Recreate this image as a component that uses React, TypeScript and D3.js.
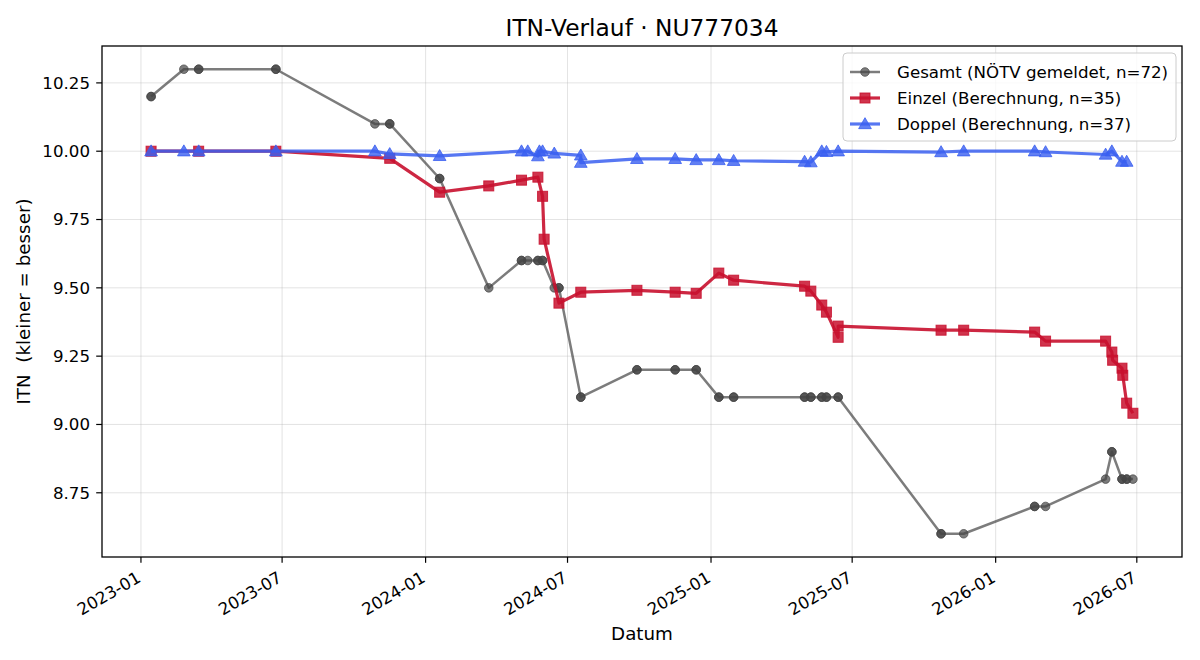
import React from "react";
import * as d3 from "d3";

const gesamtDates = [
  "2023-01-14", "2023-01-14", "2023-02-25", "2023-03-16", "2023-03-16", "2023-06-23", "2023-06-23",
  "2023-10-28", "2023-11-16", "2023-11-16", "2024-01-19", "2024-01-19", "2024-03-22",
  "2024-05-03", "2024-05-03", "2024-05-11", "2024-05-24", "2024-05-24", "2024-05-30", "2024-05-30",
  "2024-06-14", "2024-06-20", "2024-06-20", "2024-07-18", "2024-07-18", "2024-09-28", "2024-09-28",
  "2024-11-16", "2024-11-16", "2024-12-13", "2024-12-13", "2025-01-11", "2025-01-11",
  "2025-01-30", "2025-01-30", "2025-05-01", "2025-05-01", "2025-05-09", "2025-05-09",
  "2025-05-23", "2025-05-23", "2025-05-29", "2025-05-29", "2025-06-13", "2025-06-13",
  "2025-10-23", "2025-10-23", "2025-11-21", "2026-02-20", "2026-02-20", "2026-03-06",
  "2026-05-22", "2026-05-30", "2026-05-30", "2026-06-12", "2026-06-12", "2026-06-18", "2026-06-18",
  "2026-06-26",
];
const gesamtValues = [
  10.2, 10.2, 10.3, 10.3, 10.3, 10.3, 10.3,
  10.1, 10.1, 10.1, 9.9, 9.9, 9.5,
  9.6, 9.6, 9.6, 9.6, 9.6, 9.6, 9.6,
  9.5, 9.5, 9.5, 9.1, 9.1, 9.2, 9.2,
  9.2, 9.2, 9.2, 9.2, 9.1, 9.1,
  9.1, 9.1, 9.1, 9.1, 9.1, 9.1,
  9.1, 9.1, 9.1, 9.1, 9.1, 9.1,
  8.6, 8.6, 8.6, 8.7, 8.7, 8.7,
  8.8, 8.9, 8.9, 8.8, 8.8, 8.8, 8.8,
  8.8,
];

const einzelDates = [
  "2023-01-14", "2023-03-16", "2023-06-23", "2023-11-16", "2024-01-19", "2024-03-22",
  "2024-05-03", "2024-05-24", "2024-05-30", "2024-06-01", "2024-06-20", "2024-07-18",
  "2024-09-28", "2024-11-16", "2024-12-13", "2025-01-11", "2025-01-30", "2025-05-01",
  "2025-05-09", "2025-05-23", "2025-05-29", "2025-06-13", "2025-06-13", "2025-10-23",
  "2025-11-21", "2026-02-20", "2026-03-06", "2026-05-22", "2026-05-30", "2026-05-31",
  "2026-06-12", "2026-06-13", "2026-06-18", "2026-06-26",
];
const einzelValues = [
  10.0, 10.0, 10.0, 9.974, 9.85, 9.873,
  9.894, 9.905, 9.835, 9.678, 9.444, 9.484,
  9.491, 9.484, 9.48, 9.554, 9.528, 9.506,
  9.488, 9.437, 9.411, 9.319, 9.36, 9.345,
  9.345, 9.338, 9.305, 9.305, 9.265, 9.235,
  9.206, 9.18, 9.078, 9.041,
];

const doppelDates = [
  "2023-01-14", "2023-02-25", "2023-03-16", "2023-06-23", "2023-10-28", "2023-11-16",
  "2024-01-19", "2024-05-03", "2024-05-11", "2024-05-24", "2024-05-26", "2024-05-30",
  "2024-06-14", "2024-07-18", "2024-07-18", "2024-09-28", "2024-11-16", "2024-12-13",
  "2025-01-11", "2025-01-30", "2025-05-01", "2025-05-09", "2025-05-23", "2025-05-29",
  "2025-06-13", "2025-10-23", "2025-11-21", "2026-02-20", "2026-03-06", "2026-05-22",
  "2026-05-30", "2026-06-12", "2026-06-18",
];
const doppelValues = [
  10.0, 10.0, 10.0, 10.0, 10.0, 9.99,
  9.983, 10.0, 10.0, 9.982, 10.0, 10.0,
  9.992, 9.985, 9.958, 9.972, 9.972, 9.968,
  9.968, 9.965, 9.962, 9.96, 10.0, 9.998,
  10.0, 9.997, 10.0, 10.0, 9.997, 9.988,
  10.0, 9.962, 9.962,
];

const yTicks = [8.75, 9.0, 9.25, 9.5, 9.75, 10.0, 10.25];
const xTickLabels = ["2023-01", "2023-07", "2024-01", "2024-07", "2025-01", "2025-07", "2026-01", "2026-07"];

const TITLE = "ITN-Verlauf · NU777034";
const X_LABEL = "Datum";
const Y_LABEL = "ITN  (kleiner = besser)";
const LEGEND = [
  "Gesamt (NÖTV gemeldet, n=72)",
  "Einzel (Berechnung, n=35)",
  "Doppel (Berechnung, n=37)",
];

const parse = d3.timeParse("%Y-%m-%d");
const parseMonth = d3.timeParse("%Y-%m");

type Pt = { d: Date; v: number };
const zip = (ds: string[], vs: number[]): Pt[] => ds.map((s, i) => ({ d: parse(s) as Date, v: vs[i] }));

const gesamt = zip(gesamtDates, gesamtValues);
const einzel = zip(einzelDates, einzelValues);
const doppel = zip(doppelDates, doppelValues);

const W = 1200, H = 660;
const M = { left: 102, top: 46, right: 1182, bottom: 557 };
const FONT = "DejaVu Sans, sans-serif";
const FS = 16.67;
const LFS = 18.3;

const GRAY = "#444444";
const RED = "#c8102e";
const BLUE = "#3a5ff0";

export default function App() {
  const all = [...gesamt, ...einzel, ...doppel];
  const [dMin, dMax] = d3.extent(all, (p) => p.d.getTime()) as [number, number];
  const [vMin, vMax] = d3.extent(all, (p) => p.v) as [number, number];
  const dp = (dMax - dMin) * 0.05;
  const vp = (vMax - vMin) * 0.05;

  const x = d3.scaleTime().domain([new Date(dMin - dp), new Date(dMax + dp)]).range([M.left, M.right]);
  const y = d3.scaleLinear().domain([vMin - vp, vMax + vp]).range([M.bottom, M.top]);

  const line = d3.line<Pt>().x((p) => x(p.d)).y((p) => y(p.v));
  const xTicks = xTickLabels.map((s) => parseMonth(s) as Date);

  const tri = d3.symbol().type(d3.symbolTriangle).size(70)() as string;

  const legendX = 843, legendY = 53;
  const rowY = [72, 98, 124];

  const drawMarker = (kind: number, cx: number, cy: number, key: string | number) => {
    if (kind === 0)
      return <circle key={key} cx={cx} cy={cy} r={4.3} fill={GRAY} fillOpacity={0.7} stroke={GRAY} strokeOpacity={0.7} strokeWidth={1} />;
    if (kind === 1)
      return <rect key={key} x={cx - 5} y={cy - 5} width={10} height={10} fill={RED} fillOpacity={0.85} stroke={RED} strokeOpacity={0.85} strokeWidth={1} />;
    return <path key={key} d={tri} transform={`translate(${cx},${cy + 1})`} fill={BLUE} fillOpacity={0.8} stroke={BLUE} strokeOpacity={0.8} strokeWidth={1} />;
  };

  return (
    <svg width={W} height={H} style={{ position: "absolute", left: 0, top: 0, background: "#fff" }} fontFamily={FONT}>
      <rect x={0} y={0} width={W} height={H} fill="#fff" />
      {/* grid */}
      {xTicks.map((t, i) => (
        <line key={"gx" + i} x1={x(t)} x2={x(t)} y1={M.top} y2={M.bottom} stroke="#b0b0b0" strokeOpacity={0.35} strokeWidth={1} />
      ))}
      {yTicks.map((t, i) => (
        <line key={"gy" + i} x1={M.left} x2={M.right} y1={y(t)} y2={y(t)} stroke="#b0b0b0" strokeOpacity={0.35} strokeWidth={1} />
      ))}

      {/* series */}
      <path d={line(gesamt) as string} fill="none" stroke={GRAY} strokeOpacity={0.7} strokeWidth={2.5} strokeLinejoin="round" />
      {gesamt.map((p, i) => drawMarker(0, x(p.d), y(p.v), "g" + i))}
      <path d={line(einzel) as string} fill="none" stroke={RED} strokeOpacity={0.9} strokeWidth={3.2} strokeLinejoin="round" />
      {einzel.map((p, i) => drawMarker(1, x(p.d), y(p.v), "e" + i))}
      <path d={line(doppel) as string} fill="none" stroke={BLUE} strokeOpacity={0.85} strokeWidth={3.2} strokeLinejoin="round" />
      {doppel.map((p, i) => drawMarker(2, x(p.d), y(p.v), "d" + i))}

      {/* frame */}
      <rect x={M.left} y={M.top} width={M.right - M.left} height={M.bottom - M.top} fill="none" stroke="#000" strokeWidth={1.3} />

      {/* y axis */}
      {yTicks.map((t, i) => (
        <g key={"yt" + i}>
          <line x1={M.left - 5.8} x2={M.left} y1={y(t)} y2={y(t)} stroke="#000" strokeWidth={1.2} />
          <text x={M.left - 12} y={y(t)} dy="0.35em" textAnchor="end" fontSize={FS} fill="#000">
            {d3.format(".2f")(t)}
          </text>
        </g>
      ))}
      {/* x axis */}
      {xTicks.map((t, i) => (
        <g key={"xt" + i}>
          <line x1={x(t)} x2={x(t)} y1={M.bottom} y2={M.bottom + 5.8} stroke="#000" strokeWidth={1.2} />
          <text
            transform={`translate(${x(t) - 2},${M.bottom + 19}) rotate(-30)`}
            textAnchor="end"
            dy="0.35em"
            fontSize={FS}
            fill="#000"
          >
            {xTickLabels[i]}
          </text>
        </g>
      ))}

      {/* labels */}
      <text x={(M.left + M.right) / 2} y={36} textAnchor="middle" fontSize={23.3} fill="#000">
        {TITLE}
      </text>
      <text x={(M.left + M.right) / 2} y={640} textAnchor="middle" fontSize={LFS} fill="#000">
        {X_LABEL}
      </text>
      <text
        transform={`translate(30,${(M.top + M.bottom) / 2}) rotate(-90)`}
        textAnchor="middle"
        fontSize={LFS}
        fill="#000"
        style={{ whiteSpace: "pre" }}
      >
        {Y_LABEL}
      </text>

      {/* legend */}
      <rect x={legendX} y={legendY} width={333} height={88} rx={4} fill="#fff" fillOpacity={0.8} stroke="#cccccc" strokeWidth={1} />
      {LEGEND.map((lab, i) => {
        const color = i === 0 ? GRAY : i === 1 ? RED : BLUE;
        const op = i === 0 ? 0.7 : i === 1 ? 0.9 : 0.85;
        const sw = i === 0 ? 2.5 : 3.2;
        return (
          <g key={"lg" + i}>
            <line x1={850} x2={880} y1={rowY[i]} y2={rowY[i]} stroke={color} strokeOpacity={op} strokeWidth={sw} />
            {drawMarker(i, 865, rowY[i], "lm" + i)}
            <text x={897} y={rowY[i]} dy="0.35em" fontSize={FS} fill="#000">
              {lab}
            </text>
          </g>
        );
      })}
    </svg>
  );
}
